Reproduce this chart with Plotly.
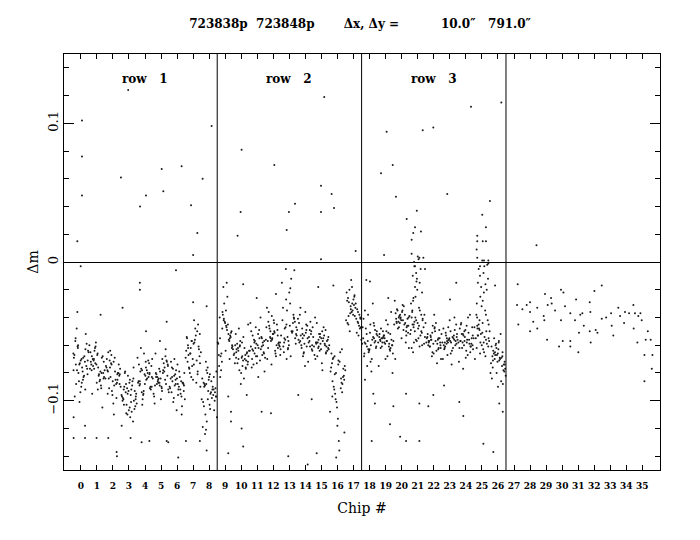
import numpy as np
import plotly.graph_objects as go

# ---- per-chip magnitude differences (millimag) for the main clump of each chip ----
chip_00 = [-62,-81,-70,-55,-92,-74,-66,-85,-78,-59,-71,-97,-68,-80,-64,-76,-88,-52,-73,-69,-83,-61,-77,-90,-57,-72,-86,-65,-79,-48,-75,-94,-67,-82,-60,-71,-87,-74,-63,-101,-78,-69]
chip_01 = [-70,-84,-66,-78,-91,-73,-60,-81,-75,-68,-87,-72,-79,-64,-83,-76,-95,-69,-58,-77,-86,-71,-80,-67,-74,-89,-62,-78,-82,-70,-105,-74,-65,-85,-77,-72,-92,-68,-80,-61]
chip_02 = [-76,-88,-72,-95,-81,-67,-84,-79,-91,-74,-86,-70,-98,-83,-77,-89,-65,-80,-93,-75,-85,-71,-82,-102,-78,-87,-73,-90,-69,-84,-80,-96,-76,-88,-64,-81,-110,-79,-85,-74]
chip_03 = [-88,-99,-105,-92,-84,-110,-96,-101,-79,-93,-107,-98,-86,-103,-95,-112,-90,-100,-82,-97,-108,-94,-104,-87,-99,-115,-91,-102,-96,-80,-106,-93,-100,-89,-109,-97,-85,-103,-76,-95,-118,-92]
chip_04 = [-78,-90,-72,-86,-81,-95,-69,-84,-77,-92,-88,-74,-83,-99,-70,-85,-79,-91,-66,-87,-80,-94,-75,-82,-89,-73,-96,-84,-78,-62,-90,-81,-86,-71,-103,-83,-76,-88,-80,-93]
chip_05 = [-85,-74,-91,-80,-68,-87,-95,-78,-83,-72,-99,-89,-76,-84,-92,-70,-81,-88,-79,-97,-73,-86,-82,-90,-66,-85,-77,-94,-80,-88,-71,-84,-102,-79,-87,-75,-93,-83,-63,-89]
chip_06 = [-82,-93,-88,-76,-97,-85,-90,-79,-101,-87,-84,-72,-95,-89,-80,-92,-86,-104,-78,-91,-83,-98,-88,-74,-94,-86,-81,-99,-90,-77,-87,-107,-84,-92,-70,-89,-96,-83,-110,-88]
chip_07 = [-66,-52,-74,-60,-81,-57,-69,-48,-77,-63,-85,-55,-71,-62,-90,-58,-67,-45,-75,-64,-53,-80,-68,-59,-72,-50,-83,-65,-56,-76,-61,-70,-54,-87,-66,-73,-42,-62,-79,-57]
chip_08 = [-88,-97,-81,-104,-92,-76,-99,-86,-110,-94,-83,-101,-90,-115,-79,-95,-88,-107,-93,-84,-98,-72,-91,-103,-87,-96,-80,-112,-94,-89,-100,-85,-119,-92,-78,-97,-106,-90,-83,-99]
chip_09 = [-48,-62,-35,-55,-70,-42,-58,-25,-66,-51,-44,-75,-56,-38,-61,-47,-68,-53,-30,-59,-45,-72,-50,-64,-40,-57,-18,-63,-49,-78,-54,-43,-67,-52,-36,-60,-46,-83,-55,-41]
chip_10 = [-64,-72,-58,-69,-76,-61,-67,-54,-73,-65,-80,-60,-70,-48,-68,-75,-63,-71,-57,-66,-84,-62,-74,-69,-52,-67,-78,-64,-71,-59,-66,-88,-73,-62,-70,-45,-68,-65,-77,-60]
chip_11 = [-58,-66,-52,-70,-61,-47,-64,-55,-74,-60,-68,-50,-63,-57,-79,-62,-53,-67,-59,-44,-71,-56,-65,-60,-76,-54,-62,-69,-49,-64,-58,-73,-61,-40,-66,-57,-83,-63,-55,-68]
chip_12 = [-50,-58,-44,-62,-53,-39,-56,-66,-48,-60,-52,-70,-45,-57,-63,-51,-36,-59,-55,-47,-68,-54,-61,-42,-57,-49,-74,-53,-64,-46,-58,-52,-33,-60,-55,-67,-50,-43,-62,-56]
chip_13 = [-45,-52,-30,-58,-40,-63,-15,-50,-47,-55,-22,-61,-44,-35,-53,-68,-48,-6,-57,-42,-51,-27,-59,-46,-65,-38,-54,-49,-12,-56,-43,-60,-33,-50,-70,-47,-19,-55,-41,-62]
chip_14 = [-52,-60,-45,-57,-49,-65,-41,-55,-62,-50,-36,-58,-54,-68,-47,-61,-53,-43,-59,-56,-72,-48,-63,-51,-38,-57,-66,-54,-46,-60,-52,-75,-44,-58,-55,-64,-49,-33,-61,-53]
chip_15 = [-56,-62,-50,-59,-66,-54,-61,-47,-58,-64,-55,-70,-60,-52,-63,-57,-44,-61,-59,-67,-53,-62,-56,-73,-58,-49,-64,-60,-55,-68,-57,-63,-40,-59,-61,-54,-78,-58,-65,-52]
chip_16 = [-68,-85,-74,-97,-63,-80,-108,-72,-90,-77,-118,-66,-84,-95,-75,-129,-70,-88,-101,-79,-65,-92,-82,-113,-73,-87,-99,-78,-136,-69,-83,-105,-76,-91,-81,-123,-71,-86,-94,-141]
chip_17 = [-32,-40,-25,-45,-36,-18,-42,-30,-50,-38,-27,-44,-34,-13,-47,-39,-29,-53,-35,-22,-41,-37,-48,-31,-26,-43,-36,-56,-33,-20,-46,-38,-28,-51,-34,-41,-24,-39,-44,-30]
chip_18 = [-52,-61,-45,-66,-55,-38,-59,-70,-48,-57,-63,-41,-54,-75,-50,-60,-35,-58,-65,-47,-56,-13,-62,-51,-68,-44,-57,-53,-79,-59,-49,-64,-55,-30,-61,-52,-72,-58,-46,-63]
chip_19 = [-55,-60,-50,-57,-64,-53,-58,-45,-61,-56,-70,-52,-59,-54,-66,-57,-48,-62,-55,-75,-51,-58,-60,-42,-56,-63,-53,-57,-68,-55,-36,-59,-54,-61,-50,-80,-57,-62,-52,-58]
chip_20 = [-40,-46,-35,-43,-50,-38,-45,-32,-48,-41,-55,-37,-44,-39,-62,-42,-34,-47,-40,-28,-45,-43,-51,-36,-41,-58,-44,-39,-49,-35,-46,-42,-70,-38,-47,-40,-31,-44,-53,-41]
chip_21 = [-50,-38,-55,-45,-60,-42,-52,-35,-58,-47,-44,-62,-50,-40,-54,-46,-65,-41,-57,-49,-53,-43,-59,-48,-36,-51,-56,-44,-61,-47]
chip_22 = [-54,-60,-48,-57,-63,-51,-58,-44,-61,-55,-66,-52,-59,-56,-70,-50,-57,-62,-46,-55,-64,-53,-58,-38,-60,-56,-68,-52,-57,-61,-49,-59,-54,-73,-56,-62,-47,-58,-55,-65]
chip_23 = [-55,-59,-50,-62,-56,-47,-58,-64,-53,-57,-42,-60,-55,-67,-52,-58,-61,-49,-56,-70,-54,-59,-45,-57,-63,-53,-58,-56,-74,-51,-60,-55,-48,-62,-57,-54,-66,-58,-40,-56]
chip_24 = [-52,-60,-46,-57,-65,-50,-58,-40,-62,-55,-69,-48,-59,-53,-63,-56,-44,-61,-54,-72,-51,-58,-47,-64,-57,-38,-60,-55,-67,-52,-59,-49,-62,-56,-77,-53,-58,-45,-61,-57]
chip_25 = [-48,-55,-44,-62,-50,-58,-47,-65,-53,-42,-60,-55,-68,-49,-57,-63,-46,-59,-52,-70,-54,-45,-61,-51,-38,-56,-66,-50,-58,-53]
chip_26 = [-65,-72,-58,-76,-68,-62,-80,-70,-55,-74,-66,-84,-69,-60,-77,-71,-64,-88,-67,-73,-52,-70,-79,-63,-68,-75,-59,-82,-69,-66,-78,-72,-61,-86,-67,-74,-57,-71,-65,-80]

band_chips = [chip_00, chip_01, chip_02, chip_03, chip_04, chip_05, chip_06, chip_07, chip_08,
              chip_09, chip_10, chip_11, chip_12, chip_13, chip_14, chip_15, chip_16, chip_17,
              chip_18, chip_19, chip_20, chip_21, chip_22, chip_23, chip_24, chip_25, chip_26]

# ---- upward excursions near chips 21 and 25 (chip coordinate, millimag) ----
spike21_x = [20.62,20.95,20.71,21.18,20.83,21.05,20.66,21.27,20.9,20.75,21.12,20.58,21.0,20.86,21.22,20.69,20.97,21.08,20.79,21.3,20.92,20.73]
spike21_y = [-40,-12,-28,-5,-18,2,-35,-22,-8,-45,-15,-30,4,-25,-38,-10,-20,-33,-3,-42,-14,-26]
spike25_x = [24.68,25.1,24.85,25.3,24.75,25.02,25.2,24.9,25.38,24.72,25.15,24.95,25.25,24.8,25.05,25.42,24.88,25.12,24.7,25.33,24.98,25.22]
spike25_y = [-30,-8,-42,-20,-15,1,-35,-25,-12,-48,-3,-18,-38,-5,-28,-45,-10,-22,-40,-2,-32,-16]

# ---- isolated points (chip coordinate, millimag) ----
outlier_x = [2.95,0.07,0.07,2.5,5.04,6.28,7.59,0.07,4.06,3.69,5.14,6.87,7.26,-0.22,7.0,8.15,-0.01,
             15.17,10.02,12.06,14.97,15.63,13.35,12.97,9.96,14.97,15.78,12.83,9.77,17.13,14.97,12.78,
             26.21,24.32,21.31,21.97,19.06,19.44,18.71,19.64,22.84,25.5,20.31,20.94,25.02,25.25,20.83,
             21.2,20.72,20.62,24.71,24.71,25.05,25.25,24.67,18.9,20.62,21.1,21.35,20.77,24.71,25.13,
             25.4,20.83,21.45,24.88,
             5.93,3.68,3.68,2.6,-0.22,1.23,7.0,7.84,5.35,4.06,4.93,-0.45,0.26,-0.45,0.26,0.98,1.71,
             3.1,3.79,4.27,2.23,5.35,5.45,6.55,7.42,7.74,6.07,7.84,7.8,2.25,
             9.19,9.36,9.36,10.02,9.19,10.34,11.27,11.85,10.12,12.93,14.7,14.14,13.55,14.39,10.12,
             12.16,10.96,14.8,15.74,9.09,
             18.23,18.33,19.48,20.27,21.1,21.66,21.97,22.64,23.59,23.84,19.27,19.9,20.27,21.1,18.13,
             25.09,25.71,26.3,26.08,26.0,17.71,18.02,19.16,23.4,23.01,25.4,25.82]
outlier_y = [124,102,76,61,67,69,60,48,48,40,51,41,21,15,5,98,-3,
             119,81,70,55,49,42,36,36,36,39,23,19,8,2,-5,
             115,112,95,97,94,70,64,47,49,44,31,37,34,25,25,
             22,21,16,19,15,15,15,9,5,6,3,3,0,3,1,
             1,-3,-5,-3,
             -6,-15,-20,-33,-36,-38,-29,-32,-43,-50,-57,-112,-118,-127,-127,-127,-127,
             -127,-130,-129,-137,-129,-130,-129,-129,-124,-141,-136,-121,-140,
             -97,-108,-115,-120,-138,-96,-108,-109,-133,-140,-138,-146,-96,-99,-16,
             -23,-26,-18,-17,-15,
             -95,-102,-104,-95,-102,-104,-96,-89,-101,-111,-117,-126,-129,-129,-129,
             -131,-137,-108,-102,-90,-85,-14,-26,-15,-27,-1,-17]

# ---- row 4 (chips 27-35), sparse ----
row4_x = [27.23,27.19,27.27,27.52,27.79,28.0,28.0,28.0,28.2,28.45,28.45,28.85,28.89,28.93,29.06,29.1,
          29.35,29.31,29.56,29.93,30.08,29.93,30.04,29.81,30.18,30.51,30.51,30.51,30.87,30.8,31.01,
          31.05,31.13,31.26,31.35,31.72,31.76,31.78,31.72,32.01,32.09,32.2,32.47,32.47,32.74,33.05,
          33.09,33.19,33.5,33.61,33.86,33.92,34.17,34.44,34.46,34.54,34.69,34.75,34.88,34.96,35.13,
          35.13,35.21,35.34,35.52,35.59,35.63,28.4]
row4_y = [-16,-31,-45,-34,-31,-29,-36,-50,-43,-48,-33,-39,-42,-23,-56,-31,
          -30,-26,-35,-20,-22,-42,-57,-61,-32,-57,-61,-37,-27,-42,-65,
          -51,-38,-37,-46,-29,-36,-58,-50,-21,-49,-51,-17,-41,-40,-37,
          -46,-53,-33,-39,-44,-36,-37,-31,-48,-37,-58,-39,-37,-42,-86,
          -67,-56,-50,-56,-77,-67,12]

chip_labels = [str(i) for i in range(36)]
row_edges = [8.5, 17.5, 26.5]
row_names = ["row\u00a0\u00a0\u00a01", "row\u00a0\u00a0\u00a02", "row\u00a0\u00a0\u00a03"]
row_centers = [4, 13, 22]

# place each chip's stars across the chip width (deterministic golden-ratio spread)
xs, ys = [], []
for k, vals in enumerate(band_chips):
    idx = np.arange(len(vals))
    offs = ((idx * 0.6180339887 + 0.31) % 1.0 - 0.5) * 0.97
    xs.extend((k + offs).tolist())
    ys.extend([v / 1000.0 for v in vals])
for px_, py_ in ((spike21_x, spike21_y), (spike25_x, spike25_y),
                 (outlier_x, outlier_y), (row4_x, row4_y)):
    xs.extend(px_)
    ys.extend([v / 1000.0 for v in py_])

fig = go.Figure()
fig.add_trace(go.Scatter(x=xs, y=ys, mode="markers",
                         marker=dict(size=2.0, color="#1a1a1a", line=dict(width=0)),
                         hoverinfo="skip", showlegend=False))

for xe in row_edges:
    fig.add_shape(type="line", x0=xe, x1=xe, y0=0, y1=1, xref="x", yref="paper",
                  line=dict(color="black", width=1))

serif = "DejaVu Serif"
for name, xc in zip(row_names, row_centers):
    fig.add_annotation(x=xc, y=0.132, text=name, showarrow=False,
                       font=dict(family=serif, size=12, color="black", weight="bold"))

nb = "\u00a0"
title_text = ("723838p" + nb * 2 + "723848p" + nb * 7 + "\u0394x," + nb + "\u0394y" + nb + "=" + nb * 10
              + "10.0\u2033" + nb * 3 + "791.0\u2033")

fig.update_layout(
    width=700, height=540,
    paper_bgcolor="white", plot_bgcolor="white",
    margin=dict(l=56, r=48, t=46, b=78),
    title=dict(text=title_text, x=0.503, xanchor="center", y=0.97, yanchor="middle",
               font=dict(family=serif, size=12, color="black", weight="bold")),
    xaxis=dict(range=[-1.05, 36.1], tickmode="array", tickvals=list(range(36)), ticktext=chip_labels,
               ticks="inside", ticklen=5, tickcolor="black", mirror="allticks", ticklabelstandoff=7,
               showline=True, linecolor="black", linewidth=1, showgrid=False, zeroline=False,
               tickfont=dict(family=serif, size=9, color="black", weight="bold"),
               title=dict(text="Chip #", font=dict(family=serif, size=14, color="black"), standoff=13)),
    yaxis=dict(range=[-0.15, 0.15], tickmode="array", tickvals=[-0.1, 0, 0.1],
               ticktext=["\u22120.1", "0", "0.1"], tickangle=-90,
               ticks="inside", ticklen=10, tickcolor="black", mirror="allticks",
               minor=dict(dtick=0.02, tick0=0, ticks="inside", ticklen=5, tickcolor="black", showgrid=False),
               showline=True, linecolor="black", linewidth=1, showgrid=False,
               zeroline=True, zerolinecolor="black", zerolinewidth=1,
               tickfont=dict(family=serif, size=13, color="black"),
               title=dict(text="\u0394m", font=dict(family=serif, size=14, color="black"), standoff=3)),
)

fig.write_html("out.html")
